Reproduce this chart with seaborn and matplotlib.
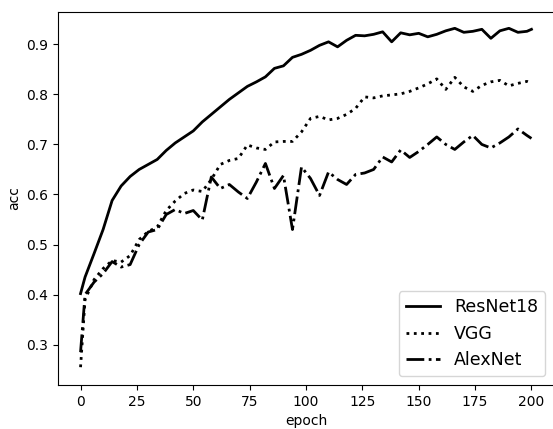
import matplotlib
matplotlib.use("Agg")
import matplotlib.pyplot as plt
import seaborn as sns
import pandas as pd

epochs = [0] + list(range(2, 200, 4)) + [200]

resnet18 = [0.402, 0.435, 0.482, 0.530, 0.588, 0.617, 0.636, 0.650, 0.660, 0.670,
            0.688, 0.703, 0.715, 0.727, 0.745, 0.760, 0.775, 0.790, 0.803, 0.816,
            0.825, 0.835, 0.852, 0.857, 0.874, 0.880, 0.888, 0.898, 0.905, 0.895,
            0.908, 0.918, 0.917, 0.920, 0.925, 0.905, 0.923, 0.919, 0.922, 0.915,
            0.920, 0.927, 0.932, 0.924, 0.926, 0.930, 0.912, 0.927, 0.932, 0.924,
            0.926, 0.930]

vgg = [0.255, 0.390, 0.430, 0.452, 0.468, 0.465, 0.478, 0.510, 0.526, 0.535,
       0.568, 0.587, 0.602, 0.609, 0.606, 0.630, 0.660, 0.668, 0.672, 0.699,
       0.693, 0.690, 0.705, 0.706, 0.706, 0.725, 0.752, 0.756, 0.749, 0.752,
       0.760, 0.772, 0.795, 0.793, 0.797, 0.799, 0.801, 0.806, 0.813, 0.821,
       0.831, 0.810, 0.834, 0.815, 0.806, 0.818, 0.825, 0.828, 0.817, 0.822,
       0.826, 0.822]

alexnet = [0.285, 0.400, 0.425, 0.442, 0.466, 0.455, 0.460, 0.500, 0.525, 0.530,
           0.560, 0.570, 0.562, 0.568, 0.549, 0.635, 0.612, 0.620, 0.605, 0.592,
           0.625, 0.662, 0.612, 0.638, 0.530, 0.655, 0.632, 0.598, 0.645, 0.630,
           0.620, 0.640, 0.643, 0.650, 0.675, 0.665, 0.689, 0.674, 0.686, 0.700,
           0.715, 0.700, 0.690, 0.705, 0.718, 0.700, 0.693, 0.703, 0.715, 0.731,
           0.718, 0.712]

series = [("ResNet18", resnet18, "-"), ("VGG", vgg, ":"), ("AlexNet", alexnet, "-.")]

fig = plt.figure(figsize=(5.53, 4.29), dpi=100)
ax = fig.add_axes([58 / 553, 1 - 385 / 429, (554 - 58) / 553, (385 - 12) / 429])

for name, vals, ls in series:
    sns.lineplot(x=epochs, y=vals, ax=ax, color="black", linestyle=ls,
                 linewidth=2, label=name)

ax.set_xlim(-10, 210)
ax.set_ylim(0.2194, 0.9646)
ax.set_xticks([0, 25, 50, 75, 100, 125, 150, 175, 200])
ax.set_yticks([0.3, 0.4, 0.5, 0.6, 0.7, 0.8, 0.9])
ax.set_xlabel("epoch")
ax.set_ylabel("acc")
ax.legend(loc="lower right", fontsize=12.5)

fig.savefig("out.png", dpi=100)
